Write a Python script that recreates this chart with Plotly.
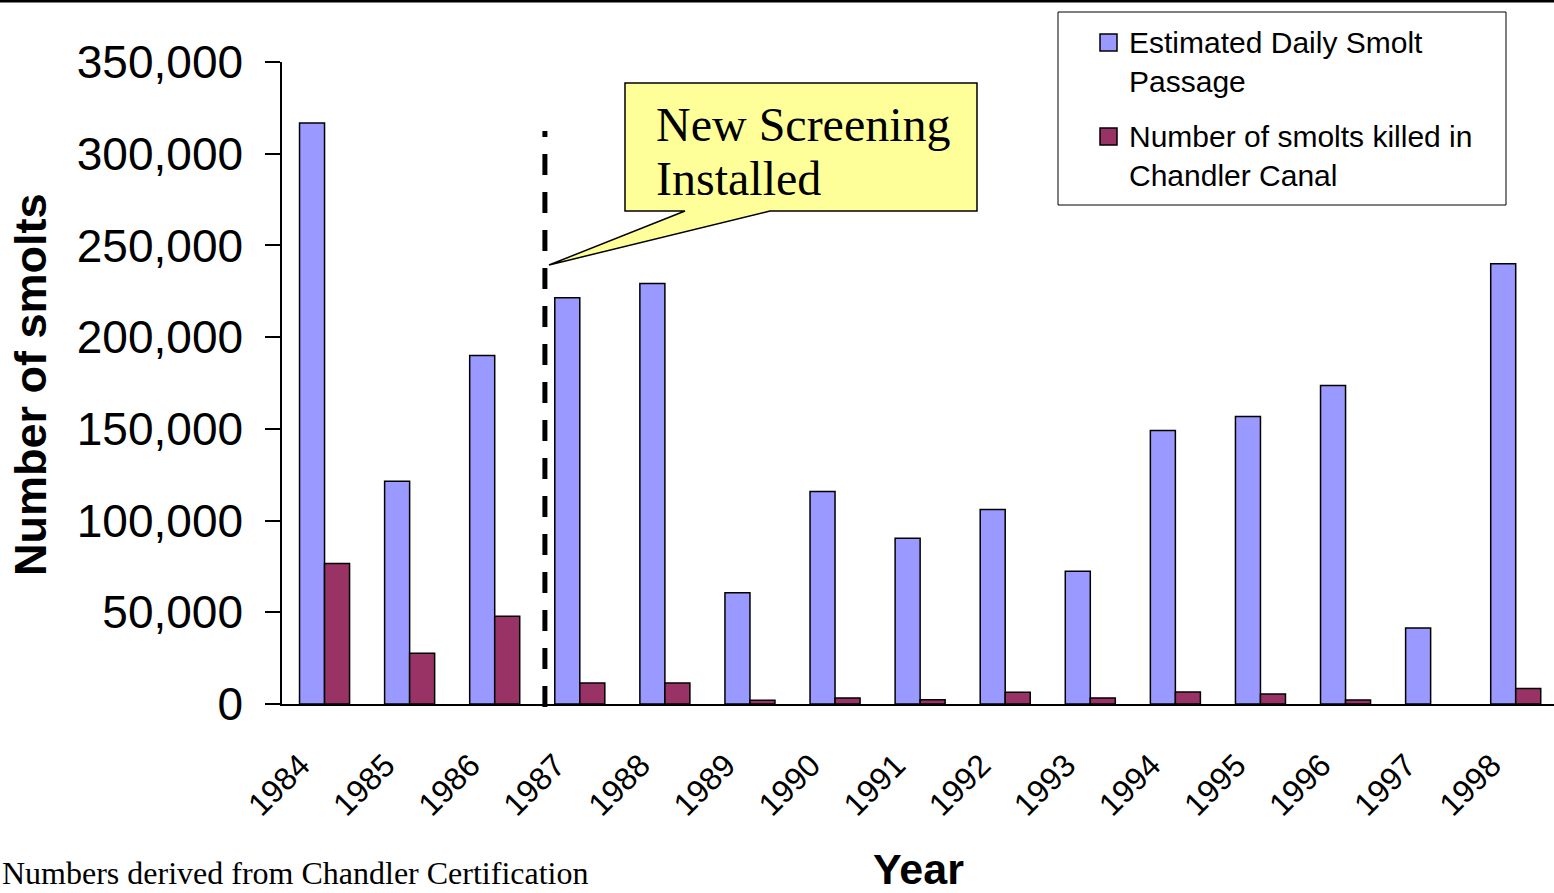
import plotly.graph_objects as go

# ---- data -------------------------------------------------------------
years = ["1984", "1985", "1986", "1987", "1988", "1989", "1990", "1991",
         "1992", "1993", "1994", "1995", "1996", "1997", "1998"]
passage = [316800, 121400, 190000, 221500, 229200, 60600, 115900, 90400,
           106100, 72400, 149100, 156800, 173600, 41500, 240000]
killed = [76600, 27600, 47900, 11400, 11400, 2000, 3300, 2300,
          6400, 3300, 6500, 5400, 2200, 0, 8500]
y_ticks = [0, 50000, 100000, 150000, 200000, 250000, 300000, 350000]

series_names = ["Estimated Daily Smolt<br>Passage",
                "Number of smolts killed in<br>Chandler Canal"]
series_colors = ["#9999FF", "#993366"]

# ---- page geometry ----------------------------------------------------
W, H = 1554, 893
L, R, T, B = 282, 0, 62, 189
PW, PH = W - L - R, H - T - B

SANS = "Arial, Liberation Sans, sans-serif"
SERIF = "Times New Roman, Liberation Serif, serif"


def px_x(p):
    return (p - L) / PW


def px_y(p):
    return (H - B - p) / PH


fig = go.Figure()
for vals, name, col in zip([passage, killed], series_names, series_colors):
    # empty bars get no outline, so a zero value leaves no mark
    widths = [1.5 if v else 0 for v in vals]
    fig.add_trace(go.Bar(
        x=years, y=vals, name=name.replace("<br>", " "),
        marker=dict(color=col, line=dict(color="black", width=widths)),
        showlegend=False,
    ))

shapes = []
annotations = []

# frame line along the top of the page
shapes.append(dict(type="line", xref="paper", yref="paper",
                   x0=px_x(0), x1=px_x(W), y0=px_y(1), y1=px_y(1),
                   line=dict(color="black", width=3)))

# dashed marker between 1986 and 1987 (drawn bottom-up)
shapes.append(dict(type="line", xref="x", yref="paper",
                   x0=2.59, x1=2.59, y0=px_y(707), y1=px_y(131),
                   line=dict(color="black", width=5, dash="21px,17px")))

# callout box with pointer
pts = [(625, 83), (977, 83), (977, 211), (770, 211), (549, 265),
       (685, 211), (625, 211)]
path = "M " + " L ".join(f"{px_x(a):.5f},{px_y(b):.5f}" for a, b in pts) + " Z"
shapes.append(dict(type="path", xref="paper", yref="paper", path=path,
                   fillcolor="#FFFF99", line=dict(color="black", width=1.5)))

for text, ymid in [("New Screening", 124), ("Installed", 179)]:
    annotations.append(dict(text=text, xref="paper", yref="paper",
                            x=px_x(654), y=px_y(ymid), xanchor="left",
                            yanchor="middle", showarrow=False,
                            font=dict(family=SERIF, size=48, color="black")))

# legend box
shapes.append(dict(type="rect", xref="paper", yref="paper",
                   x0=px_x(1058), x1=px_x(1506), y0=px_y(12), y1=px_y(205),
                   fillcolor="white", line=dict(color="black", width=1)))
legend_rows = [(34, series_colors[0], series_names[0]),
               (128, series_colors[1], series_names[1])]
for top, col, name in legend_rows:
    shapes.append(dict(type="rect", xref="paper", yref="paper",
                       x0=px_x(1100), x1=px_x(1117),
                       y0=px_y(top), y1=px_y(top + 17),
                       fillcolor=col, line=dict(color="black", width=1.5)))
    for i, line in enumerate(name.split("<br>")):
        annotations.append(dict(text=line, xref="paper", yref="paper",
                                x=px_x(1127), y=px_y(top + 9 + 38.5 * i),
                                xanchor="left", yanchor="middle",
                                showarrow=False,
                                font=dict(family=SANS, size=30, color="black")))

# axis titles and source note
annotations.append(dict(text="<b>Number of smolts</b>", xref="paper",
                        yref="paper", x=px_x(31), y=px_y(384),
                        textangle=-90, showarrow=False,
                        xanchor="center", yanchor="middle",
                        font=dict(family=SANS, size=45, color="black")))
annotations.append(dict(text="<b>Year</b>", xref="paper", yref="paper",
                        x=px_x(918), y=px_y(869), showarrow=False,
                        xanchor="center", yanchor="middle",
                        font=dict(family=SANS, size=43, color="black")))
annotations.append(dict(text="Numbers derived from Chandler Certification",
                        xref="paper", yref="paper", x=px_x(0), y=px_y(H),
                        xanchor="left", yanchor="bottom", showarrow=False,
                        font=dict(family=SERIF, size=32, color="black")))

fig.update_layout(
    width=W, height=H,
    margin=dict(l=L, r=R, t=T, b=B, pad=0),
    paper_bgcolor="white", plot_bgcolor="white",
    barmode="group", bargap=0.412, bargroupgap=0,
    showlegend=False,
    shapes=shapes, annotations=annotations,
    xaxis=dict(type="category", range=[-0.5, 14.45], showline=True,
               linecolor="black", linewidth=1.5, ticks="", showgrid=False,
               tickangle=-45, ticklabelstandoff=28, ticklabelshift=-24,
               tickfont=dict(family=SANS, size=32, color="black")),
    yaxis=dict(range=[0, 350000], tickvals=y_ticks, tickformat=",d",
               showline=True, linecolor="black", linewidth=1.5,
               ticks="outside", ticklen=15, tickwidth=1.5, tickcolor="black",
               showgrid=False, zeroline=False, ticklabelstandoff=13,
               tickfont=dict(family=SANS, size=46, color="black")),
)

fig.write_html("out.html")
